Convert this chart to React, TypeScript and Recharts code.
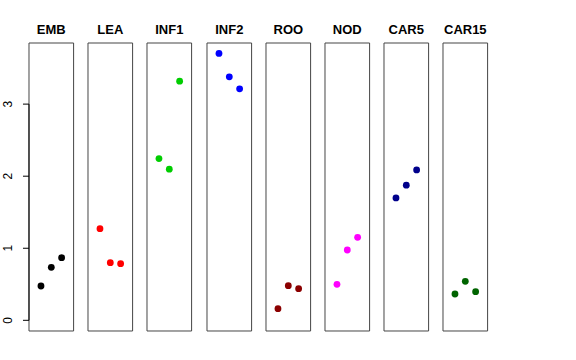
import React from "react";
import {
  ScatterChart,
  Scatter,
  XAxis,
  YAxis,
  ReferenceArea,
  ReferenceLine,
} from "recharts";

const groups = ["EMB", "LEA", "INF1", "INF2", "ROO", "NOD", "CAR5", "CAR15"];
const colors = ["#000000", "#FF0000", "#00CD00", "#0000FF", "#8B0000", "#FF00FF", "#00008B", "#006400"];

const emb = [0.476, 0.736, 0.869];
const lea = [1.272, 0.8, 0.786];
const inf1 = [2.245, 2.097, 3.319];
const inf2 = [3.703, 3.379, 3.213];
const roo = [0.161, 0.481, 0.439];
const nod = [0.5, 0.976, 1.152];
const car5 = [1.699, 1.875, 2.087];
const car15 = [0.365, 0.541, 0.397];

const values = [emb, lea, inf1, inf2, roo, nod, car5, car15];
const replicates = [1, 2, 3];
const yTicks = [0, 1, 2, 3];

const xDomain = [-0.16, 4.16];
const yDomain = [-0.148, 3.848];

const FONT = "'Liberation Sans', Arial, Helvetica, sans-serif";
const PANEL_W = 44.6;
const PANEL_TOP = 43;
const PANEL_H = 288;
const PAD = 8;

const Dot = (props: any) => {
  const { cx, cy, fill } = props;
  return <circle cx={cx} cy={cy} r={3.4} fill={fill} />;
};

const RotTick = (props: any) => {
  const { y, payload } = props;
  return (
    <text
      transform={`translate(12.5,${y}) rotate(-90)`}
      textAnchor="middle"
      fontSize={12}
      fontFamily={FONT}
      fill="#000"
    >
      {payload.value}
    </text>
  );
};

function Panel({ index }: { index: number }) {
  const first = index === 0;
  const data = replicates.map((r, i) => ({ x: r, y: values[index][i] }));
  const panelLeft = 29 + index * 59.18;
  const left = first ? 0 : panelLeft - PAD;
  const width = first ? 29 + PANEL_W + PAD : PANEL_W + 2 * PAD;
  return (
    <div style={{ position: "absolute", left, top: 0 }}>
      <ScatterChart
        width={width}
        height={360}
        margin={{ top: PANEL_TOP, bottom: 360 - PANEL_TOP - PANEL_H, left: first ? 0 : PAD, right: PAD }}
      >
        <XAxis type="number" dataKey="x" domain={xDomain} allowDataOverflow hide />
        <YAxis
          type="number"
          dataKey="y"
          domain={yDomain}
          allowDataOverflow
          ticks={yTicks}
          hide={!first}
          width={29}
          axisLine={false}
          tickLine={{ stroke: "#000" }}
          tickSize={6}
          tick={<RotTick />}
        />
        <ReferenceArea
          x1={xDomain[0]}
          x2={xDomain[1]}
          y1={yDomain[0]}
          y2={yDomain[1]}
          fill="none"
          stroke="#444"
          strokeWidth={1}
          fillOpacity={0}
          label={{
            value: groups[index],
            position: "top",
            offset: 9,
            fontSize: 13,
            fontWeight: "bold",
            fontFamily: FONT,
            fill: "#000",
          }}
        />
        {first && (
          <ReferenceLine
            segment={[
              { x: xDomain[0], y: yTicks[0] },
              { x: xDomain[0], y: yTicks[yTicks.length - 1] },
            ]}
            stroke="#000"
          />
        )}
        <Scatter data={data} fill={colors[index]} shape={<Dot />} isAnimationActive={false} />
      </ScatterChart>
    </div>
  );
}

export default function App() {
  return (
    <div style={{ position: "absolute", left: 0, top: 0, width: 576, height: 360, background: "#fff" }}>
      {groups.map((g, i) => (
        <Panel key={g} index={i} />
      ))}
    </div>
  );
}
